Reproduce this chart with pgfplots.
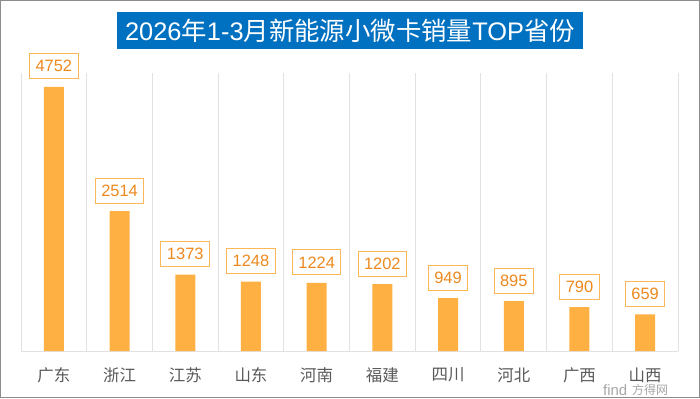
\documentclass[border=0pt]{standalone}
\usepackage{pgfplots}
\pgfplotsset{compat=1.18}
\usepackage{fontspec}
\setmainfont{Liberation Sans}
\newfontfamily\cjk{Noto Sans CJK SC}
\definecolor{titleblue}{RGB}{0,112,192}
\definecolor{barorange}{RGB}{255,176,67}
\definecolor{lblborder}{RGB}{252,184,88}
\definecolor{lbltext}{RGB}{237,137,31}
\definecolor{gridgray}{RGB}{225,225,225}
\definecolor{labelgray}{RGB}{89,89,89}
\definecolor{framegray}{RGB}{140,140,140}
\begin{document}
\begin{tikzpicture}[x=1bp,y=1bp]
\path[use as bounding box] (0,0) rectangle (700,398);
\draw[framegray, line width=1.2bp] (0.6,0.6) rectangle (699.4,397.4);
\begin{axis}[
  at={(21bp,47bp)}, anchor=south west,
  width=657bp, height=278bp, scale only axis,
  xmin=-0.5, xmax=9.5, ymin=0, ymax=5000,
  axis x line*=bottom, axis y line=none,
  x axis line style={draw=gridgray, line width=1bp, -},
  xtick={0,...,9},
  xticklabels={广东,浙江,江苏,山东,河南,福建,四川,河北,广西,山西},
  minor xtick={-0.5,0.5,...,9.5},
  xminorgrids, minor grid style={draw=gridgray, line width=1bp},
  major tick length=0pt, minor tick length=0pt,
  ytick=\empty,
  xticklabel style={font=\cjk\fontsize{16.5}{16.5}\selectfont, text=labelgray, anchor=center, yshift=-24bp},
  ybar, bar width=20bp, bar shift=0pt,
  clip=false,
  nodes near coords={\pgfmathprintnumber[1000 sep={},fixed,precision=0,assume math mode=true]{\pgfplotspointmeta}},
  every node near coord/.append style={draw=lblborder, line width=1bp, fill=white, text=lbltext,
    font=\fontsize{16.5}{16.5}\selectfont, inner xsep=6bp, inner ysep=0pt, minimum height=25bp,
    anchor=south, yshift=8bp, outer sep=0pt},
]
\addplot[fill=barorange, draw=none] coordinates {
(0,4752) (1,2514) (2,1373) (3,1248) (4,1224) (5,1202) (6,949) (7,895) (8,790) (9,659)};
\end{axis}
\node[fill=titleblue, text=white, minimum width=466bp, minimum height=37bp, inner sep=0pt,
  font=\fontsize{25.5}{25.5}\selectfont] at (350,367.5)
  {2026{\cjk 年}1-3{\cjk 月新能源小微卡销量}TOP{\cjk 省份}};
\node[text=gray!70, font=\fontsize{15}{15}\selectfont, anchor=base west, inner sep=0pt] at (603,3) {find};
\node[text=gray!70, font=\cjk\fontsize{12}{12}\selectfont, anchor=base west, inner sep=0pt] at (632,3.5) {方得网};
\end{tikzpicture}
\end{document}
